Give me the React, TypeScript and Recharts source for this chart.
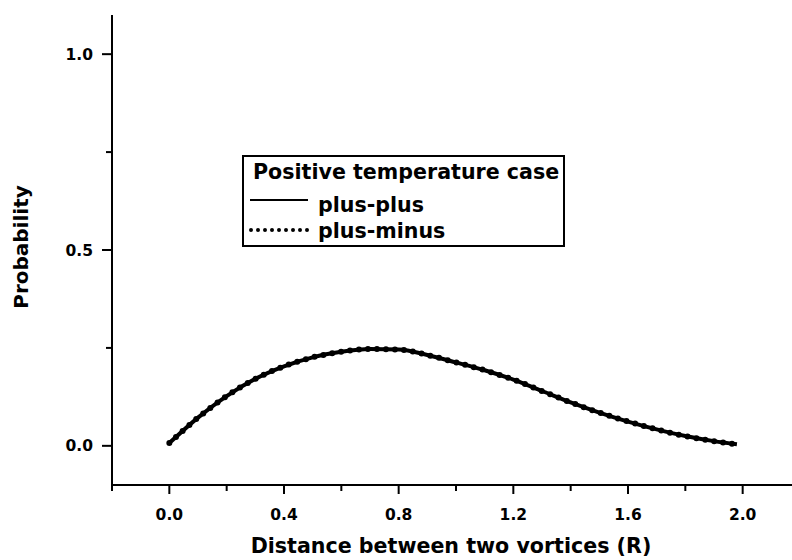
import React from "react";
import { LineChart, Line, XAxis, YAxis, Legend } from "recharts";

const distance = [0, 0.1, 0.2, 0.3, 0.4, 0.5, 0.6, 0.7, 0.8, 0.9, 1.0, 1.1, 1.2, 1.3, 1.4, 1.5, 1.6, 1.7, 1.8, 1.9, 1.98];
const plusPlus = [0.007, 0.072, 0.127, 0.171, 0.203, 0.226, 0.24, 0.247, 0.246, 0.232, 0.213, 0.193, 0.169, 0.14, 0.111, 0.085, 0.062, 0.042, 0.025, 0.012, 0.004];
const plusMinus = [0.007, 0.072, 0.127, 0.171, 0.203, 0.226, 0.24, 0.247, 0.246, 0.232, 0.213, 0.193, 0.169, 0.14, 0.111, 0.085, 0.062, 0.042, 0.025, 0.012, 0.004];

const xTicks = [-0.2, 0, 0.2, 0.4, 0.6, 0.8, 1.0, 1.2, 1.4, 1.6, 1.8, 2.0, 2.2];
const xMajor = [0, 0.4, 0.8, 1.2, 1.6, 2.0];
const yTicks = [0, 0.25, 0.5, 0.75, 1.0];
const yMajor = [0, 0.5, 1.0];

const legendTitle = "Positive temperature case";
const seriesNames = ["plus-plus", "plus-minus"];
const xTitle = "Distance between two vortices (R)";
const yTitle = "Probability";

const FONT = "'DejaVu Sans', sans-serif";

const data = distance.map((r, i) => ({ r, pp: plusPlus[i], pm: plusMinus[i] }));

const isIn = (arr: number[], v: number) => arr.some((a) => Math.abs(a - v) < 1e-6);

const XTick = (props: any) => {
  const { x, y, payload } = props;
  const v = payload.value;
  const major = isIn(xMajor, v);
  return (
    <g>
      <line x1={x} x2={x} y1={y} y2={y + (major ? 9 : 6)} stroke="#000" strokeWidth={2} />
      {major && (
        <text x={x} y={y + 35} textAnchor="middle" fontFamily={FONT} fontWeight="bold" fontSize={15.5} fill="#000">
          {v.toFixed(1)}
        </text>
      )}
    </g>
  );
};

const YTick = (props: any) => {
  const { x, y, payload } = props;
  const v = payload.value;
  const major = isIn(yMajor, v);
  return (
    <g>
      <line x1={x - (major ? 10 : 6)} x2={x} y1={y} y2={y} stroke="#000" strokeWidth={2} />
      {major && (
        <text x={x - 19} y={y + 5.5} textAnchor="end" fontFamily={FONT} fontWeight="bold" fontSize={15.5} fill="#000">
          {v.toFixed(1)}
        </text>
      )}
    </g>
  );
};

const LegendBox = () => (
  <svg width={323} height={92} style={{ display: "block" }}>
    <rect x={1} y={1} width={321} height={90} fill="#fff" stroke="#000" strokeWidth={2} />
    <text x={11} y={24} fontFamily={FONT} fontWeight="bold" fontSize={20.6} fill="#000">
      {legendTitle}
    </text>
    <line x1={8} x2={66} y1={45} y2={45} stroke="#000" strokeWidth={2} />
    <text x={76} y={57} fontFamily={FONT} fontWeight="bold" fontSize={20.6} fill="#000">
      {seriesNames[0]}
    </text>
    <line x1={9} x2={66} y1={75} y2={75} stroke="#000" strokeWidth={4} strokeDasharray="0 7" strokeLinecap="round" />
    <text x={76} y={83} fontFamily={FONT} fontWeight="bold" fontSize={20.6} fill="#000">
      {seriesNames[1]}
    </text>
  </svg>
);

const XTitle = (props: any) => {
  const { viewBox } = props;
  return (
    <text x={451} y={viewBox.y + 68} textAnchor="middle" fontFamily={FONT} fontWeight="bold" fontSize={20.6} fill="#000">
      {xTitle}
    </text>
  );
};

const YTitle = () => (
  <text x={28} y={247} transform="rotate(-90, 28, 247)" textAnchor="middle" fontFamily={FONT} fontWeight="bold" fontSize={20} fill="#000">
    {yTitle}
  </text>
);

export default function App() {
  return (
    <div style={{ position: "absolute", left: 0, top: 0, width: 792, height: 560, overflow: "hidden", background: "#fff" }}>
      <LineChart width={808} height={560} data={data} margin={{ top: 15, right: 8, bottom: 0, left: 0 }}>
        <XAxis
          dataKey="r"
          type="number"
          domain={[-0.2, 2.2]}
          ticks={xTicks}
          interval={0}
          allowDataOverflow
          height={75}
          tickSize={0}
          tickMargin={0}
          tickLine={false}
          tick={<XTick />}
          axisLine={{ stroke: "#000", strokeWidth: 2 }}
          label={<XTitle />}
        />
        <YAxis
          type="number"
          domain={[-0.1, 1.1]}
          ticks={yTicks}
          interval={0}
          allowDataOverflow
          width={112}
          tickSize={0}
          tickMargin={0}
          tickLine={false}
          tick={<YTick />}
          axisLine={{ stroke: "#000", strokeWidth: 2 }}
          label={<YTitle />}
        />
        <Legend
          layout="vertical"
          align="center"
          verticalAlign="middle"
          content={<LegendBox />}
          wrapperStyle={{ position: "absolute", left: 242, top: 155, width: 323, height: 92 }}
        />
        <Line
          dataKey="pp"
          name={seriesNames[0]}
          type="monotone"
          stroke="#000"
          strokeWidth={4}
          dot={false}
          isAnimationActive={false}
        />
        <Line
          dataKey="pm"
          name={seriesNames[1]}
          type="monotone"
          stroke="#000"
          strokeWidth={6}
          strokeDasharray="0 9"
          strokeLinecap="round"
          dot={false}
          isAnimationActive={false}
        />
      </LineChart>
    </div>
  );
}
